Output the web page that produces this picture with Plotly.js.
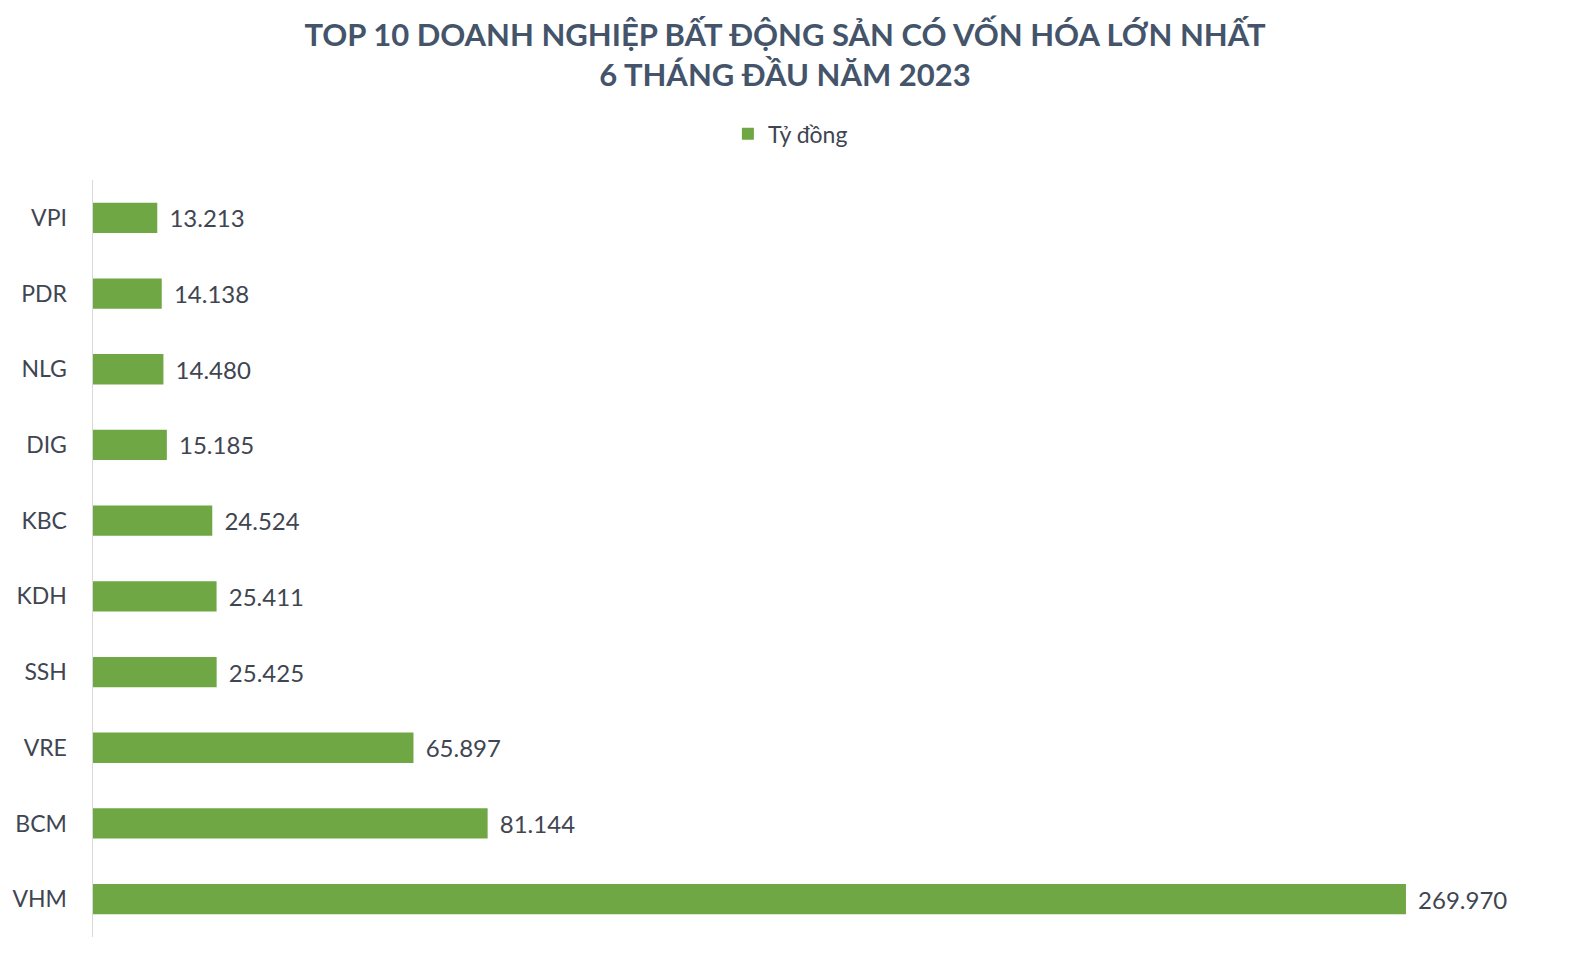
<!DOCTYPE html>
<html>
<head>
<meta charset="utf-8">
<script src="https://cdn.plot.ly/plotly-3.0.1.min.js"></script>
<style>
  html, body { margin: 0; padding: 0; background: #fff; }
  #chart { width: 1570px; height: 956px; }
</style>
</head>
<body>
<div id="chart"></div>
<script>
// ma co phieu, tu tren xuong
let companies = ['VPI', 'PDR', 'NLG', 'DIG', 'KBC', 'KDH', 'SSH', 'VRE', 'BCM', 'VHM'];
// von hoa, ty dong
let capValues = [13213, 14138, 14480, 15185, 24524, 25411, 25425, 65897, 81144, 269970];

let textColor = '#404552';
let fontFam = 'Lato, "Open Sans", sans-serif';

let data = [{
  type: 'bar',
  orientation: 'h',
  name: 'Tỷ đồng',
  x: capValues,
  y: companies,
  width: 0.4,
  marker: { color: '#6fa744' },
  text: capValues,
  texttemplate: '\u00a0\u2009%{x:,}',
  textposition: 'outside',
  cliponaxis: false,
  textfont: { size: 24, color: textColor, family: fontFam },
  hoverinfo: 'x+y'
}];

let layout = {
  width: 1570,
  height: 956,
  separators: ',.',
  paper_bgcolor: '#fff',
  plot_bgcolor: '#fff',
  font: { family: fontFam, color: textColor },
  margin: { l: 93, r: 18, t: 180, b: 19 },
  title: {
    text: '<b>TOP 10 DOANH NGHIỆP BẤT ĐỘNG SẢN CÓ VỐN HÓA LỚN NHẤT<br>6 THÁNG ĐẦU NĂM 2023</b>',
    font: { size: 31, color: '#44546a', family: fontFam },
    x: 0.5,
    xanchor: 'center',
    xref: 'container',
    yref: 'container',
    y: 0.952,
    yanchor: 'middle'
  },
  showlegend: true,
  legend: {
    orientation: 'h',
    x: 0.478,
    xanchor: 'center',
    y: 1.061,
    yanchor: 'middle',
    font: { size: 23, color: textColor }
  },
  xaxis: {
    range: [0, 300000],
    showgrid: false,
    zeroline: false,
    showticklabels: false,
    showline: false,
    fixedrange: true
  },
  yaxis: {
    type: 'category',
    autorange: 'reversed',
    showgrid: false,
    showline: true,
    linecolor: '#d9d9d9',
    linewidth: 1.5,
    ticks: '',
    ticklabelstandoff: 20,
    tickfont: { size: 23, color: textColor, family: fontFam }
  }
};

Plotly.newPlot('chart', data, layout, { displayModeBar: false, staticPlot: true });
</script>
</body>
</html>
